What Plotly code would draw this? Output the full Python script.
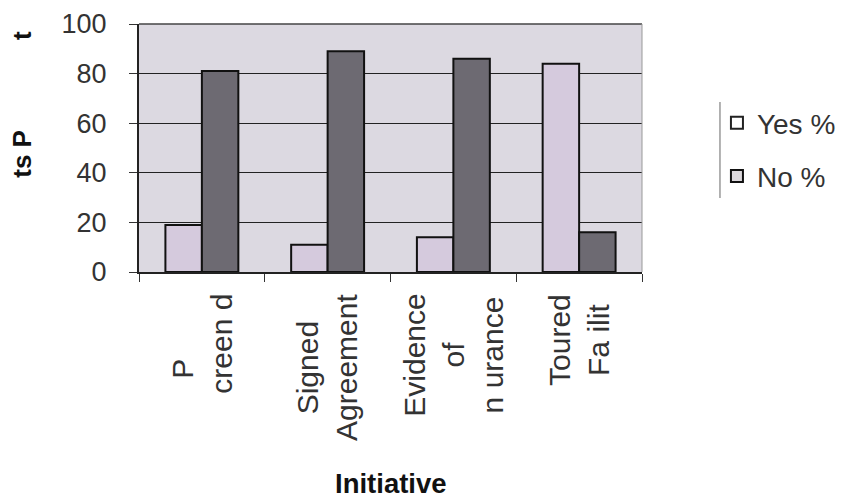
import plotly.graph_objects as go

categories = ["Pre-screened", "Signed Agreement", "Evidence of Insurance", "Toured Facility"]
tick_labels = ["P\u00a0\u00a0\u00a0\u00a0\u00a0\u00a0<br>creen\u00a0d", "Signed<br>Agreement", "Evidence<br>of<br>n\u00a0urance", "Toured<br>Fa\u00a0ilit"]
series_names = ["Yes %", "No %"]
yes_pct = [19, 11, 14, 84]
no_pct = [81, 89, 86, 16]
y_ticks = [0, 20, 40, 60, 80, 100]

font_main = "Liberation Sans, Arial, sans-serif"

fig = go.Figure()
fig.add_trace(go.Bar(
    x=categories, y=yes_pct, name=series_names[0], showlegend=False,
    marker=dict(color="#d5cadd", line=dict(color="#111111", width=2)),
))
fig.add_trace(go.Bar(
    x=categories, y=no_pct, name=series_names[1], showlegend=False,
    marker=dict(color="#6d6a72", line=dict(color="#111111", width=2)),
))
# legend-only entries (reference legend swatches are light with dark borders)
fig.add_trace(go.Scatter(
    x=[None], y=[None], name=series_names[0], legendgroup="a", mode="markers",
    marker=dict(symbol="square", size=16, color="#ffffff", line=dict(color="#222222", width=1.5)),
))
fig.add_trace(go.Scatter(
    x=[None], y=[None], name=series_names[1], legendgroup="b", mode="markers",
    marker=dict(symbol="square", size=16, color="#dcd8dc", line=dict(color="#111111", width=2.5)),
))

for cat, lab in zip(categories, tick_labels):
    fig.add_annotation(
        x=cat, xref="x", y=-0.08, yref="paper", yanchor="top",
        text=lab, textangle=-90, showarrow=False, align="center",
        font=dict(family=font_main, size=30, color="#333333"),
    )

fig.add_annotation(
    x=0.5, xref="paper", y=-0.922, yref="paper", yanchor="bottom",
    text="<b>Initiative</b>", showarrow=False,
    font=dict(family=font_main, size=27.5, color="#111111"),
)

fig.add_annotation(
    x=-0.233, xref="paper", y=0.476, yref="paper", xanchor="center", yanchor="middle",
    text="<b>ts P</b>", textangle=-90, showarrow=False,
    font=dict(family=font_main, size=26, color="#111111"),
)
fig.add_annotation(
    x=-0.233, xref="paper", y=0.955, yref="paper", xanchor="center", yanchor="middle",
    text="<b>t</b>", textangle=-90, showarrow=False,
    font=dict(family=font_main, size=26, color="#111111"),
)

# page body has an 8px margin, so figure coordinates = page coordinates - 8
fig.update_layout(
    width=840, height=490,
    margin=dict(l=131, r=206, t=16, b=226, autoexpand=False),
    paper_bgcolor="white",
    plot_bgcolor="#dcd9e1",
    barmode="group",
    bargap=0.42,
    bargroupgap=0.0,
    font=dict(family=font_main, size=26, color="#333333"),
    legend=dict(
        x=1.149, xanchor="left", y=0.494, yanchor="middle",
        font=dict(family=font_main, size=28, color="#333333"),
        bgcolor="rgba(255,255,255,0)",
        borderwidth=0,
        itemsizing="constant", tracegroupgap=14,
    ),
    showlegend=True,
)
fig.update_xaxes(
    showticklabels=False, ticks="outside", tickson="boundaries", ticklen=8,
    tickcolor="#333333", showline=True, linecolor="#222222", linewidth=1.5,
    showgrid=False, mirror=False, automargin=False,
)
fig.update_yaxes(
    range=[0, 100], tickvals=y_ticks, ticks="outside", ticklen=8,
    tickcolor="#333333", showline=True, linecolor="#222222", linewidth=2,
    showgrid=True, gridcolor="#222222", gridwidth=1.2,
    ticklabelstandoff=17, automargin=False,
    tickfont=dict(family=font_main, size=27, color="#333333"),
    zeroline=False,
)
# plot frame top and right
fig.add_shape(type="line", xref="paper", yref="paper", x0=0, x1=1, y0=1, y1=1,
              line=dict(color="#444444", width=1.5))
fig.add_shape(type="line", xref="paper", yref="paper", x0=1, x1=1, y0=0, y1=1,
              line=dict(color="#999999", width=1))
# legend left bracket
fig.add_shape(type="line", xref="paper", yref="paper", x0=1.155, x1=1.155, y0=0.298, y1=0.685,
              line=dict(color="#999999", width=1.5))

fig.write_html("out.html")
